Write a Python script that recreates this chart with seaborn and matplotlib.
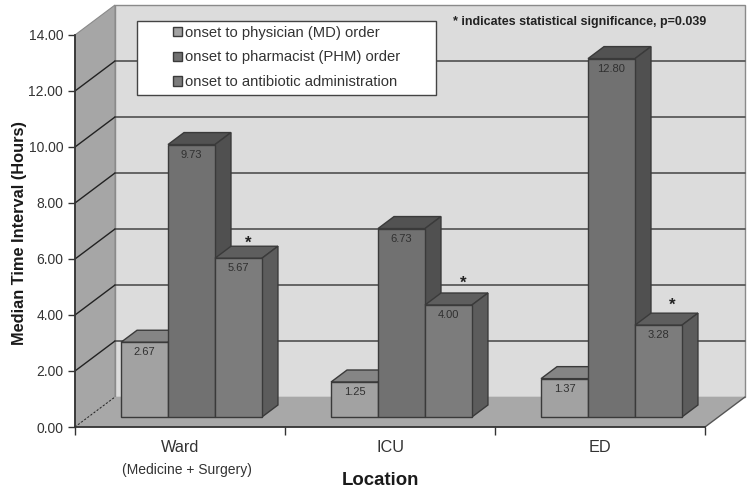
import pandas as pd
import matplotlib
matplotlib.use("Agg")
import matplotlib.pyplot as plt
from matplotlib.patches import Polygon, Rectangle
from matplotlib.transforms import IdentityTransform
import seaborn as sns

# ================================
# Data
# ================================
locations = ["Ward", "ICU", "ED"]
intervals = [
    "onset to physician (MD) order",
    "onset to pharmacist (PHM) order",
    "onset to antibiotic administration",
]
md_order = [2.67, 1.25, 1.37]
phm_order = [9.73, 6.73, 12.80]
antibiotic = [5.67, 4.00, 3.28]
y_ticks = [0, 2, 4, 6, 8, 10, 12, 14]

df = pd.DataFrame({
    "Location": locations * 3,
    "Interval": [i for i in intervals for _ in locations],
    "Hours": md_order + phm_order + antibiotic,
})

# colours per series: front, top, side
front_cols = ["#a2a2a2", "#717171", "#7c7c7c"]
top_cols = ["#858585", "#525252", "#5e5e5e"]
side_cols = ["#7d7d7d", "#505050", "#5c5c5c"]
line_col = "#505050"
text_col = "#333333"
# star placement next to each antibiotic bar, in pixels
star_offsets = [(10, 15), (15, 22), (14, 20)]

# ================================
# Figure, axes
# ================================
sns.set_style("white")
plt.rcParams["font.family"] = ["Liberation Sans", "DejaVu Sans"]
W, H = 750, 494
fig = plt.figure(figsize=(W / 100, H / 100), dpi=100)
ax = fig.add_axes([75 / W, (H - 427) / H, 630 / W, 392 / H])

sns.barplot(data=df, x="Location", y="Hours", hue="Interval", order=locations,
            hue_order=intervals, palette=front_cols, width=0.671, saturation=1,
            edgecolor="#3a3a3a", linewidth=1, ax=ax)
ax.set_xlim(-0.5, 2.5)
ax.set_ylim(0, 14)

# one pixel in data units
px_x, px_y = 1 / 210, 1 / 28
wall_dx, wall_dy = 40 * px_x, 30 * px_y
bar_dx, bar_dy = 16 * px_x, 12 * px_y
shift_x, shift_y = 11.5 * px_x, 10 * px_y
x0, x1 = ax.get_xlim()
top = y_ticks[-1]

# ================================
# Walls and floor
# ================================
ax.add_patch(Rectangle((x0 + wall_dx, wall_dy), x1 - x0, top, fc="#dcdcdc", ec="#8a8a8a",
                       lw=1, clip_on=False, zorder=0.5))
ax.add_patch(Polygon([(x0, 0), (x0 + wall_dx, wall_dy), (x0 + wall_dx, top + wall_dy), (x0, top)],
                     fc="#a6a6a6", ec="#8a8a8a", lw=0.8, clip_on=False, zorder=0.6))
ax.add_patch(Polygon([(x0, 0), (x1, 0), (x1 + wall_dx, wall_dy), (x0 + wall_dx, wall_dy)],
                     fc="#a8a8a8", ec="none", clip_on=False, zorder=1))
for v in y_ticks[1:-1]:
    ax.plot([x0 + wall_dx, x1 + wall_dx], [v + wall_dy, v + wall_dy], color=line_col, lw=1.2,
            clip_on=False, zorder=0.8)
    ax.plot([x0, x0 + wall_dx], [v, v + wall_dy], color="#222222", lw=1, clip_on=False, zorder=0.8)
ax.plot([x0, x0 + wall_dx], [0, wall_dy], color="#222222", lw=0.7, ls=(0, (2, 2)),
        clip_on=False, zorder=1.2)
ax.plot([x1, x1 + wall_dx], [0, wall_dy], color="#555555", lw=1, clip_on=False, zorder=1.2)

# ================================
# 3D bars built from the seaborn patches
# ================================
bars = sorted([p for p in ax.patches if isinstance(p, Rectangle) and p.get_height() > 0
               and p.get_width() < 0.3 and p.get_y() == 0], key=lambda p: p.get_x())
for n, p in enumerate(bars):
    series = n % 3
    x, w, h = p.get_x() + shift_x, p.get_width(), p.get_height()
    b = shift_y
    p.set_x(x)
    p.set_y(b)
    p.set_clip_on(False)
    z = 3 + n
    p.set_zorder(z + 0.2)
    t = b + h
    ax.add_patch(Polygon([(x, t), (x + w, t), (x + w + bar_dx, t + bar_dy), (x + bar_dx, t + bar_dy)],
                         fc=top_cols[series], ec="#3a3a3a", lw=1, clip_on=False, zorder=z))
    ax.add_patch(Polygon([(x + w, b), (x + w + bar_dx, b + bar_dy), (x + w + bar_dx, t + bar_dy), (x + w, t)],
                         fc=side_cols[series], ec="#3a3a3a", lw=1, clip_on=False, zorder=z))
    ax.text(x + w / 2, t - 10 * px_y, f"{h:.2f}", ha="center", va="center", fontsize=8,
            color="#303030", zorder=z + 0.5)
    # significance marker above the antibiotic bars
    if series == 2:
        sx, sy = star_offsets[n // 3]
        ax.text(x + w / 2 + sx * px_x, t + sy * px_y, "*", ha="center", va="center", fontsize=12,
                fontweight="bold", color="#222222", zorder=z + 0.5)

# ================================
# Axes, ticks, labels
# ================================
sns.despine(ax=ax, top=True, right=True)
for s in ["left", "bottom"]:
    ax.spines[s].set_color("#333333")
    ax.spines[s].set_linewidth(1.3)
    ax.spines[s].set_zorder(2)
ax.set_yticks(y_ticks)
ax.set_yticklabels([f"{v:.2f}" for v in y_ticks], fontsize=10, color=text_col)
ax.tick_params(axis="y", left=True, length=5, width=1, color="#333333", pad=3.5)
ax.set_xticks([0, 1, 2])
ax.set_xticklabels(locations, fontsize=11.7, color=text_col)
ax.set_xticks([-0.5, 0.5, 1.5, 2.5], minor=True)
ax.tick_params(axis="x", which="major", bottom=False, pad=6)
ax.tick_params(axis="x", which="minor", bottom=True, length=6, width=1, color="#333333")
ax.set_xlabel("")
ax.set_ylabel("Median Time Interval (Hours)", fontsize=11.8, fontweight="bold", color="#1a1a1a",
              labelpad=1, y=0.495)
fig.text(187 / W, (H - 470) / H, "(Medicine + Surgery)", ha="center", va="center", fontsize=10,
         color=text_col)
fig.text(380 / W, (H - 480) / H, "Location", ha="center", va="center", fontsize=13.4,
         fontweight="bold", color="#1a1a1a")
fig.text(453 / W, (H - 22) / H, "* indicates statistical significance, p=0.039", ha="left",
         va="center", fontsize=9, fontweight="bold", color="#222222")

# ================================
# Legend
# ================================
handles, labels = ax.get_legend_handles_labels()
fig.add_artist(Rectangle((137, H - 95), 299, 74, fc="white", ec="#444444", lw=1,
                         transform=IdentityTransform(), zorder=2))
leg = ax.legend(handles, labels, loc="upper left", bbox_to_anchor=(167, H - 20),
                bbox_transform=IdentityTransform(), frameon=False, fontsize=10.6,
                handlelength=0.62, handleheight=0.62, handletextpad=0.2, labelspacing=0.72,
                borderaxespad=0, labelcolor=text_col)
leg.set_zorder(20)
leg.remove()
fig.add_artist(leg)

fig.savefig("out.png", dpi=100)
